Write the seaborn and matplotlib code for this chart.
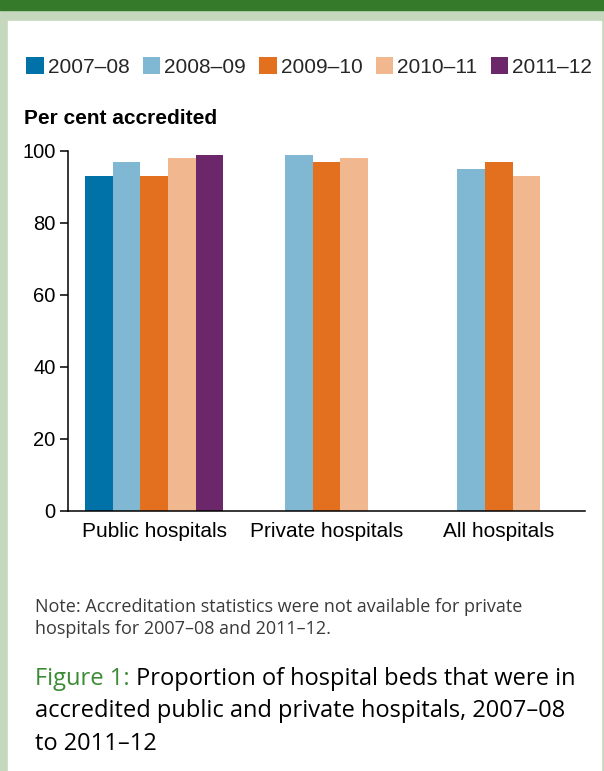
import matplotlib
matplotlib.use("Agg")
import matplotlib.pyplot as plt
from matplotlib.patches import Rectangle
import numpy as np
import pandas as pd
import seaborn as sns

# chart data
hospitals = ["Public hospitals", "Private hospitals", "All hospitals"]
years = ["2007\u201308", "2008\u201309", "2009\u201310", "2010\u201311", "2011\u201312"]
v_0708 = [93, np.nan, np.nan]
v_0809 = [97, 99, 95]
v_0910 = [93, 97, 97]
v_1011 = [98, 98, 93]
v_1112 = [99, np.nan, np.nan]
colors = ["#0072a7", "#80b8d4", "#e3701e", "#f1b88f", "#6c276a"]

rows = []
for yr, vals in zip(years, [v_0708, v_0809, v_0910, v_1011, v_1112]):
    for h, v in zip(hospitals, vals):
        rows.append({"hospital": h, "year": yr, "value": v})
df = pd.DataFrame(rows).dropna()

sns.set_theme(style="white")
plt.rcParams["font.family"] = ["Liberation Sans", "DejaVu Sans"]

W, H = 604, 771
fig = plt.figure(figsize=(W / 100, H / 100), dpi=100, facecolor="#c5d8bd")
# background panel + top band
fig.patches.append(Rectangle((8 / W, 0), 593 / W, (H - 21) / H,
                             transform=fig.transFigure, color="white", zorder=-10))
fig.patches.append(Rectangle((0, 1 - 10 / H), 1, 10 / H,
                             transform=fig.transFigure, color="#357a2a", zorder=-10))

ax = fig.add_axes([68 / W, (H - 511) / H, 517 / W, 360 / H])
ax.set_zorder(5)
ax.set_facecolor("none")
sns.barplot(data=df, x="hospital", y="value", hue="year",
            order=hospitals, hue_order=years, palette=colors,
            width=0.8, saturation=1, errorbar=None, linewidth=0, ax=ax)

ax.set_ylim(0, 100)
ax.set_xlim(-0.5, 2.5)
ax.set_yticks(range(0, 101, 20))
ax.set_xlabel("")
ax.set_ylabel("")
for s in ["top", "right"]:
    ax.spines[s].set_visible(False)
for s in ["left", "bottom"]:
    ax.spines[s].set_color("black")
    ax.spines[s].set_linewidth(1.1)
ax.tick_params(axis="y", left=True, length=6, width=1.1, pad=3,
               labelsize=14.5, colors="black")
ax.tick_params(axis="x", bottom=False, pad=2, labelsize=15, colors="black")

sns.move_legend(ax, loc="upper left", bbox_to_anchor=(26 / W, 1 - 57 / H),
                bbox_transform=fig.transFigure, ncol=5, frameon=False,
                title=None, fontsize=15, handlelength=0.85, handleheight=0.85,
                handletextpad=0.2, columnspacing=0.62, borderpad=0,
                borderaxespad=0)

fig.text(24 / W, 1 - 118 / H, "Per cent accredited", fontsize=15,
         fontweight="bold", va="center", ha="left", color="black")

note_lines = ["Note: Accreditation statistics were not available for private",
              "hospitals for 2007\u201308 and 2011\u201312."]
for i, line in enumerate(note_lines):
    fig.text(35 / W, 1 - (612 + 22 * i) / H, line, fontsize=13,
             family="Open Sans", color="#3a3a3a", va="baseline", ha="left")

cap_lines = ["Proportion of hospital beds that were in",
             "accredited public and private hospitals, 2007\u201308",
             "to 2011\u201312"]
t1 = fig.text(35 / W, 1 - 685 / H, "Figure 1:", fontsize=17,
              family="Open Sans", color="#3b8b35", va="baseline", ha="left")
ax.annotate(" " + cap_lines[0], xy=(1, 0), xycoords=t1, va="bottom",
            ha="left", fontsize=17, family="Open Sans", color="black",
            annotation_clip=False)
fig.text(35 / W, 1 - 717 / H, cap_lines[1], fontsize=17,
         family="Open Sans", color="black", va="baseline", ha="left")
fig.text(35 / W, 1 - 750 / H, cap_lines[2], fontsize=17,
         family="Open Sans", color="black", va="baseline", ha="left")

fig.savefig("out.png", dpi=100, facecolor=fig.get_facecolor())
